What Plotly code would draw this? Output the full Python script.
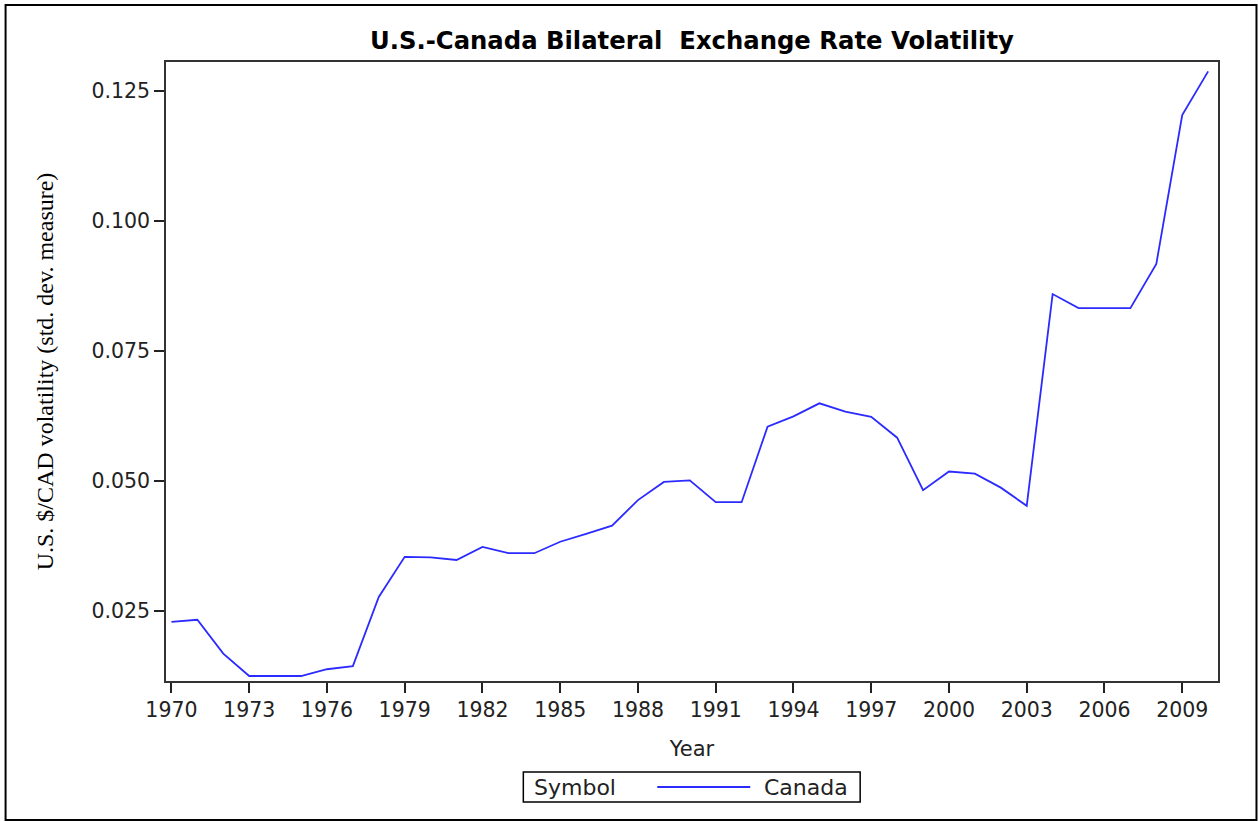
import plotly.graph_objects as go

years = list(range(1970, 2011))
canada = [0.0229, 0.0233, 0.0168, 0.0125, 0.0125, 0.0125, 0.0138, 0.0144, 0.0277, 0.0354,
          0.0353, 0.0348, 0.0373, 0.0361, 0.0361, 0.0383, 0.0398, 0.0414, 0.0463, 0.0498,
          0.0501, 0.0459, 0.0459, 0.0604, 0.0624, 0.0649, 0.0633, 0.0623, 0.0583, 0.0482,
          0.0518, 0.0514, 0.0487, 0.0452, 0.0859, 0.0832, 0.0832, 0.0832, 0.0917, 0.1203,
          0.1287]
x_ticks = list(range(1970, 2010, 3))
y_ticks = [0.025, 0.050, 0.075, 0.100, 0.125]
series_name = "Canada"
legend_title = "Symbol"

W, H = 1259, 821
L, R, T, B = 165.5, 41, 62, 140
pw, ph = W - L - R, H - T - B
LINE_COLOR = "#2b2bff"

def px_to_paper_x(px):
    return (px - L) / pw

def px_to_paper_y(py):
    return (H - B - py) / ph

fig = go.Figure()
fig.add_trace(go.Scatter(x=years, y=canada, mode="lines", name=series_name,
                         showlegend=False,
                         line=dict(color=LINE_COLOR, width=1.8)))

tick_font = dict(family="DejaVu Sans", size=20.5, color="#222")
fig.update_layout(
    width=W, height=H,
    margin=dict(l=L, r=R, t=T, b=B, pad=0),
    paper_bgcolor="white", plot_bgcolor="white",
    title=dict(text="<b>U.S.-Canada Bilateral  Exchange Rate Volatility</b>",
               x=0.5, xref="paper", xanchor="center",
               y=1 - 40 / H, yref="container", yanchor="middle",
               font=dict(family="DejaVu Sans", size=24.3, color="black")),
    xaxis=dict(range=[1969.79, 2010.38], tickmode="array", tickvals=x_ticks,
               ticks="outside", ticklen=10, tickwidth=1.5, tickcolor="#222",
               showline=True, linecolor="#333", linewidth=1.5, mirror=True,
               showgrid=False, zeroline=False, tickfont=tick_font,
               title=dict(text="Year",
                          font=dict(family="DejaVu Sans", size=21, color="#222"),
                          standoff=20)),
    yaxis=dict(range=[0.01154, 0.1305], tickmode="array", tickvals=y_ticks,
               tickformat=".3f",
               ticks="outside", ticklen=10, tickwidth=1.5, tickcolor="#222",
               showline=True, linecolor="#333", linewidth=1.5, mirror=True,
               showgrid=False, zeroline=False, tickfont=tick_font,
               title=dict(text="U.S. $/CAD volatility (std. dev. measure)",
                          font=dict(family="Liberation Serif", size=24, color="black"),
                          standoff=31)),
    showlegend=False,
)

# outer frame
fig.add_shape(type="rect", xref="paper", yref="paper",
              x0=px_to_paper_x(5), x1=px_to_paper_x(1256.5),
              y0=px_to_paper_y(820), y1=px_to_paper_y(5),
              line=dict(color="black", width=2), layer="below")

# legend box
leg_y = px_to_paper_y(787)
fig.add_shape(type="rect", xref="paper", yref="paper",
              x0=px_to_paper_x(523), x1=px_to_paper_x(860),
              y0=px_to_paper_y(802), y1=px_to_paper_y(772),
              line=dict(color="black", width=1.5), fillcolor="white")
fig.add_shape(type="line", xref="paper", yref="paper",
              x0=px_to_paper_x(657), x1=px_to_paper_x(750), y0=leg_y, y1=leg_y,
              line=dict(color=LINE_COLOR, width=1.8))
leg_font = dict(family="DejaVu Sans", size=22, color="#222")
fig.add_annotation(text=legend_title, xref="paper", yref="paper",
                   x=px_to_paper_x(532), y=leg_y, xanchor="left", yanchor="middle",
                   showarrow=False, font=leg_font)
fig.add_annotation(text=series_name, xref="paper", yref="paper",
                   x=px_to_paper_x(762), y=leg_y, xanchor="left", yanchor="middle",
                   showarrow=False, font=leg_font)

fig.write_html("out.html", config={"displayModeBar": False},
               post_script="document.body.style.margin='0';document.body.style.overflow='hidden';")
